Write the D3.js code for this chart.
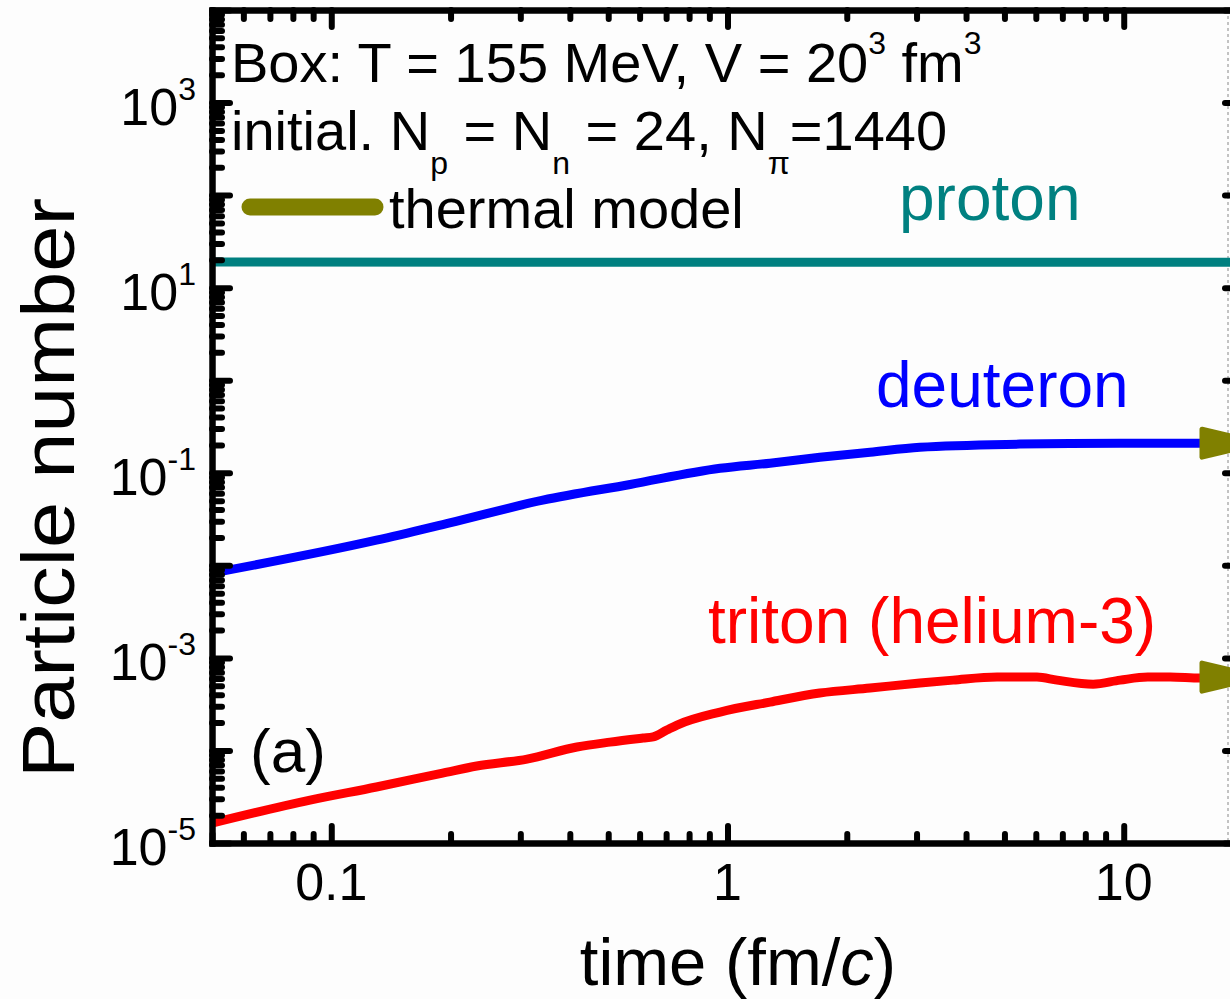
<!DOCTYPE html>
<html>
<head>
<meta charset="utf-8">
<style>
  body { margin: 0; background: #fdfdfd; }
  svg { display: block; }
  text { font-family: Arial, "Liberation Sans", sans-serif; white-space: pre; }
</style>
</head>
<body>
<script src="https://d3js.org/d3.v7.min.js"></script>
<script>
  // particle numbers vs time (fm/c)
  const protonT = [0.05, 0.3, 1, 4, 20]
  const protonN = [18.9, 18.8, 18.8, 18.8, 18.8]

  const deuteronT = [0.05, 0.13, 0.199, 0.342, 0.568, 0.958, 1.28, 1.71, 2.29, 3.06, 5.47, 9.79, 20]
  const deuteronN = [0.00824, 0.0187, 0.0288, 0.0506, 0.0748, 0.112, 0.127, 0.147, 0.167, 0.189, 0.204, 0.209, 0.209]

  const tritonT = [0.05, 0.0884, 0.13, 0.191, 0.233, 0.312, 0.417, 0.505, 0.612, 0.649, 0.703, 0.746, 0.958,
    1.28, 1.71, 2.29, 3.06, 3.71, 4.79, 6.04, 6.79, 8.37, 9.79, 11.5, 13.1, 15.6, 20]
  const tritonN = [1.64e-5, 2.91e-5, 4.03e-5, 5.70e-5, 6.79e-5, 8.07e-5, 1.09e-4, 1.23e-4, 1.36e-4, 1.40e-4, 1.66e-4, 1.88e-4, 2.60e-4,
    3.33e-4, 4.17e-4, 4.72e-4, 5.35e-4, 5.75e-4, 6.21e-4, 6.21e-4, 5.75e-4, 5.2e-4, 5.75e-4, 6.21e-4, 6.21e-4, 6.05e-4, 6.05e-4]

  // thermal model values (deuteron, triton), shown as arrows at the right edge
  const thermalN = [0.209, 6.2e-4]

  const xMajor = [0.1, 1, 10]
  const yLabelExp = [3, 1, -1, -3, -5]

  const width = 1230
  const height = 999
  const margin = { left: 212, right: 1243, top: 10, bottom: 843 }

  const svg = d3.select('body').append('svg')
    .attr('width', width)
    .attr('height', height)

  svg.append('rect').attr('width', width).attr('height', height).attr('fill', '#fdfdfd')

  const x = d3.scaleLog().domain([0.05, 20]).range([margin.left, margin.right])
  const y = d3.scaleLog().domain([1e-5, 1e4]).range([margin.bottom, margin.top])

  // minor tick values
  const xMinor = []
  ;[0.01, 0.1, 1, 10].forEach(d => {
    for (let k = 2; k <= 9; k++) {
      const v = +(d * k).toPrecision(3)
      if (v >= 0.05 && v <= 20 && xMajor.indexOf(v) < 0) xMinor.push(v)
    }
  })
  const yMajor = d3.range(-5, 5).map(e => Math.pow(10, e))
  const yMinor = []
  d3.range(-5, 4).forEach(e => {
    for (let k = 2; k <= 9; k++) yMinor.push(k * Math.pow(10, e))
  })

  // dotted edge line near right border
  svg.append('line')
    .attr('x1', 1228).attr('x2', 1228).attr('y1', margin.top).attr('y2', margin.bottom)
    .attr('stroke', '#888').attr('stroke-width', 1).attr('stroke-dasharray', '3,3')

  // curves
  const line = d3.line().x(d => x(d[0])).y(d => y(d[1])).curve(d3.curveMonotoneX)
  const series = [
    { t: protonT, n: protonN, color: '#008080' },
    { t: deuteronT, n: deuteronN, color: '#0000ff' },
    { t: tritonT, n: tritonN, color: '#ff0000' }
  ]
  series.forEach(s => {
    svg.append('path')
      .datum(s.t.map((t, i) => [t, s.n[i]]))
      .attr('d', line)
      .attr('fill', 'none')
      .attr('stroke', s.color)
      .attr('stroke-width', 9)
      .attr('stroke-linejoin', 'round')
  })

  // thermal model arrows
  thermalN.forEach(v => {
    const cx = x(20), cy = y(v)
    svg.append('path')
      .attr('d', `M${cx - 41},${cy - 14} L${cx + 18},${cy} L${cx - 41},${cy + 14} Z`)
      .attr('fill', '#808000')
      .attr('stroke', '#808000')
      .attr('stroke-width', 5)
      .attr('stroke-linejoin', 'round')
  })

  // axes (ticks pointing inward)
  function drawAxis(axisFn, scale, values, size, tr) {
    const g = svg.append('g')
      .attr('transform', tr)
      .call(axisFn(scale).tickValues(values).tickSize(size).tickSizeOuter(0).tickFormat(''))
    g.selectAll('.tick line').attr('stroke', '#000').attr('stroke-width', 6).attr('stroke-linecap', 'round')
    g.select('.domain').attr('stroke', '#000').attr('stroke-width', 6).attr('stroke-linecap', 'square')
  }
  drawAxis(d3.axisTop, x, xMinor, 9, `translate(0,${margin.bottom})`)
  drawAxis(d3.axisTop, x, xMajor, 17, `translate(0,${margin.bottom})`)
  drawAxis(d3.axisBottom, x, xMinor, 9, `translate(0,${margin.top})`)
  drawAxis(d3.axisBottom, x, xMajor, 17, `translate(0,${margin.top})`)
  drawAxis(d3.axisRight, y, yMinor, 10, `translate(${margin.left},0)`)
  drawAxis(d3.axisRight, y, yMajor, 18, `translate(${margin.left},0)`)
  drawAxis(d3.axisLeft, y, yMinor, 10, `translate(${margin.right},0)`)
  drawAxis(d3.axisLeft, y, yMajor, 18, `translate(${margin.right},0)`)

  // tick labels
  xMajor.forEach(v => {
    svg.append('text')
      .attr('x', x(v)).attr('y', 900)
      .attr('text-anchor', 'middle')
      .attr('font-size', 52)
      .text(v)
  })
  yLabelExp.forEach(e => {
    const t = svg.append('text')
      .attr('x', 196).attr('y', y(Math.pow(10, e)) + 22)
      .attr('text-anchor', 'end')
      .attr('font-size', 52)
    t.append('tspan').text('10')
    t.append('tspan').attr('dy', -25).attr('font-size', 32).text(e)
  })

  // axis titles
  const xt = svg.append('text')
    .attr('x', 738).attr('y', 985)
    .attr('text-anchor', 'middle')
    .attr('font-size', 67)
  xt.append('tspan').text('time (fm/')
  xt.append('tspan').attr('font-style', 'italic').text('c')
  xt.append('tspan').text(')')

  svg.append('text')
    .attr('transform', 'translate(74,488) rotate(-90)')
    .attr('text-anchor', 'middle')
    .attr('font-size', 75)
    .attr('textLength', 580)
    .attr('lengthAdjust', 'spacingAndGlyphs')
    .text('Particle number')

  // text with sub/superscripts: parts = [string, shift]
  function addText(px, py, parts, size, color) {
    const t = svg.append('text').attr('x', px).attr('y', py).attr('font-size', size).attr('fill', color)
    let cur = 0
    parts.forEach(p => {
      const ts = t.append('tspan').attr('dy', p[1] - cur).text(p[0])
      if (p[1] !== 0) ts.attr('font-size', 32)
      cur = p[1]
    })
  }

  addText(231, 82, [['Box: T = 155 MeV, V = 20', 0], ['3', -28], [' fm', 0], ['3', -28]], 56, '#000')
  addText(231, 150, [['initial. N', 0], ['p', 24], [' = N', 0], ['n', 24], [' = 24, N', 0], ['\u03c0', 24], ['=1440', 0]], 56, '#000')

  // legend
  svg.append('line')
    .attr('x1', 250).attr('x2', 375).attr('y1', 207).attr('y2', 207)
    .attr('stroke', '#808000').attr('stroke-width', 17).attr('stroke-linecap', 'round')
  addText(389, 228, [['thermal model', 0]], 56, '#000')

  addText(899, 220, [['proton', 0]], 64, '#008080')
  addText(876, 407, [['deuteron', 0]], 64, '#0000ff')
  addText(708, 643, [['triton (helium-3)', 0]], 64, '#ff0000')
  addText(250, 772, [['(a)', 0]], 62, '#000')
</script>
</body>
</html>
